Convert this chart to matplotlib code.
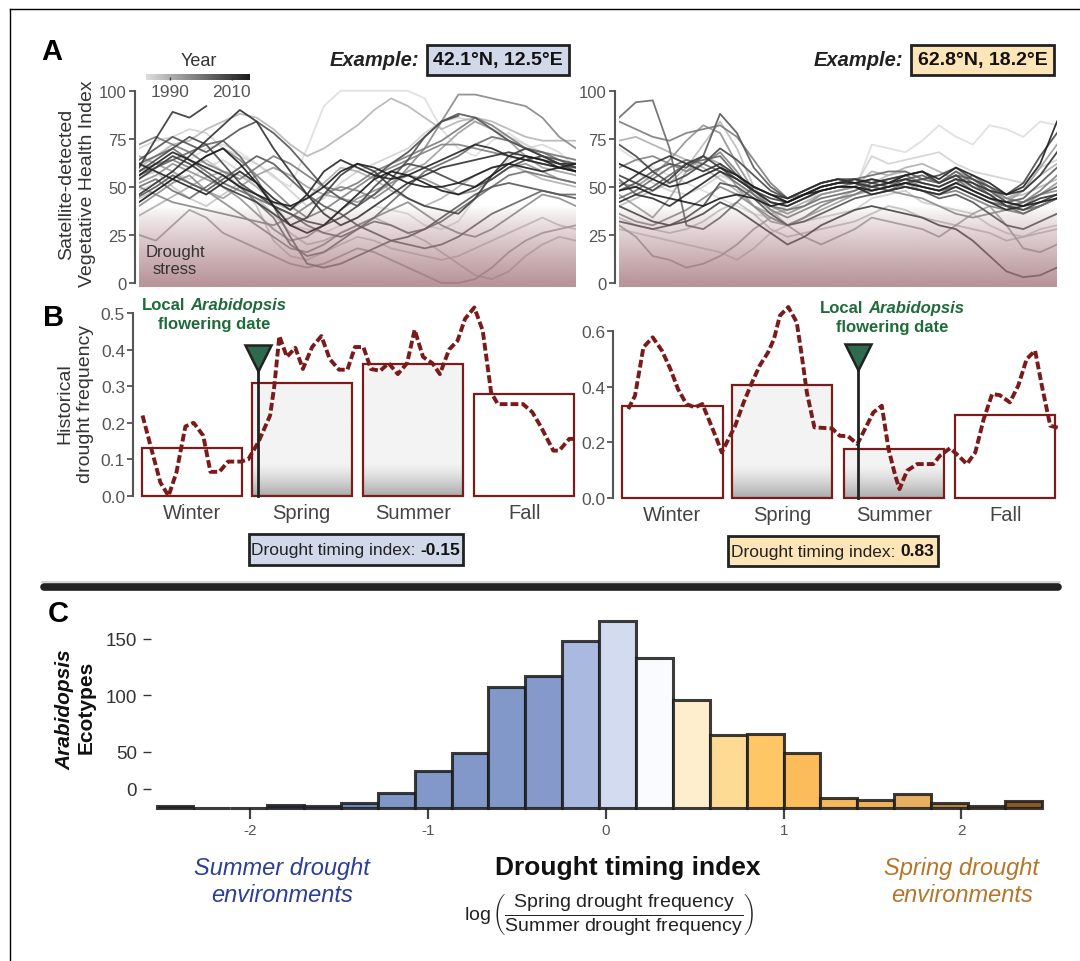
import numpy as np
import matplotlib.pyplot as plt
from matplotlib.colors import LinearSegmentedColormap, Normalize
from matplotlib.lines import Line2D
from matplotlib.patches import Rectangle
from matplotlib.offsetbox import TextArea, HPacker, VPacker, AnnotationBbox

plt.rcParams['font.family'] = ['Liberation Sans', 'DejaVu Sans']
plt.rcParams['mathtext.fontset'] = 'custom'
plt.rcParams['mathtext.rm'] = 'Liberation Sans'
plt.rcParams['mathtext.it'] = 'Liberation Sans:italic'
plt.rcParams['mathtext.bf'] = 'Liberation Sans:bold'

W, H = 1080, 962

# ---------------- panel A: vegetative health index, one line per year ----------------
WEEKS_A = np.arange(0, 53, 2)
N = None

LEFT_YEARS = [1982, 1983, 1984, 1986, 1987, 1989, 1990, 1992, 1993, 1995, 1996, 1998, 1999,
              2001, 2002, 2003, 2005, 2006, 2008, 2010, 2012, 2014, 2015, 2016, 1997, 2007, 2011]
LEFT_VHI = [
    [62, 60, 66, 64, 70, 72, 68, 62, 55, 50, 70, 92, 100, 100, 100, 100, 100, 96, 80, 70, 66, 74, 78, 72, 66, 62, 58],
    [48, 52, 58, 54, 60, 64, 58, 50, 42, 30, 28, 26, 30, 34, 40, 38, 36, 30, 28, 32, 44, 56, 64, 70, 72, 68, 60],
    [70, 74, 76, 80, 78, 70, 66, 62, 56, 48, 40, 44, 52, 58, 62, 66, 70, 78, 84, 86, 84, 80, 76, 72, 68, 66, 64],
    [55, 58, 50, 44, 40, 46, 52, 40, 22, 14, 12, 16, 20, 24, 22, 18, 16, 14, 12, 14, 18, 22, 26, 30, 34, 30, 28],
    [44, 48, 54, 60, 64, 58, 50, 44, 36, 26, 20, 22, 26, 30, 34, 30, 26, 22, 16, 10, 4, 2, 6, 14, 20, 24, 22],
    [60, 66, 72, 74, 80, 84, 88, 86, 80, 72, 66, 70, 76, 82, 90, 96, 92, 86, 80, 84, 86, 84, 80, 76, 74, 74, 74],
    [35, 40, 45, 50, 55, 58, 56, 50, 42, 38, 44, 52, 60, 58, 54, 48, 44, 40, 44, 50, 56, 60, 62, 58, 54, 52, 50],
    [25, 22, 30, 38, 34, 26, 22, 18, 14, 10, 8, 10, 14, 18, 16, 12, 8, 4, 0, 0, 2, 8, 16, 22, 26, 28, 30],
    [66, 62, 58, 52, 48, 44, 50, 56, 60, 56, 50, 46, 44, 42, 46, 52, 58, 62, 70, 78, 84, 80, 74, 66, 60, 58, 56],
    [52, 56, 62, 58, 54, 50, 44, 36, 28, 22, 24, 30, 38, 44, 48, 52, 56, 54, 50, 46, 48, 54, 60, 62, 58, 54, 52],
    [40, 46, 52, 56, 48, 42, 36, 30, 24, 18, 16, 20, 26, 30, 34, 38, 42, 36, 30, 26, 24, 28, 34, 40, 46, 44, 40],
    [58, 62, 64, 60, 66, 70, 64, 56, 48, 40, 34, 38, 44, 50, 56, 60, 64, 68, 72, 72, 70, 68, 66, 64, 62, 60, 60],
    [72, 76, 72, 68, 62, 58, 54, 60, 66, 62, 56, 50, 48, 52, 58, 62, 66, 70, 74, 80, 86, 82, 76, 70, 68, 66, 64],
    [50, 54, 48, 44, 50, 56, 50, 42, 34, 20, 14, 16, 22, 28, 32, 30, 26, 28, 32, 38, 44, 50, 56, 58, 56, 54, 52],
    [62, 66, 70, 64, 58, 52, 48, 44, 40, 36, 30, 26, 24, 28, 34, 42, 50, 58, 62, 66, 72, 76, 74, 70, 68, 64, 60],
    [56, 60, 64, 68, 72, 74, 66, 54, 40, 24, 10, 8, 10, 14, 18, 22, 20, 18, 20, 24, 30, 36, 40, 44, 48, 46, 46],
    [45, 50, 56, 52, 48, 54, 60, 66, 62, 54, 46, 40, 36, 30, 26, 22, 24, 28, 34, 40, 46, 50, 52, 50, 48, 46, 44],
    [64, 70, 76, 72, 68, 74, 80, 84, 78, 70, 60, 50, 44, 40, 46, 54, 64, 76, 84, 88, 86, 80, 74, 70, 66, 64, 62],
    [58, 64, 70, 76, 72, 62, 52, 46, 40, 36, 32, 30, 34, 40, 50, 58, 62, 60, 56, 52, 50, 54, 60, 64, 66, 62, 58],
    [54, 60, 66, 62, 56, 50, 46, 42, 36, 30, 34, 46, 56, 62, 58, 50, 44, 40, 38, 36, 44, 56, 66, 70, 66, 62, 60],
    [46, 52, 58, 66, 74, 82, 90, 84, 70, 58, 46, 36, 30, 34, 40, 46, 52, 56, 60, 62, 64, 66, 68, 66, 64, 62, 62],
    [62, 58, 54, 50, 46, 52, 58, 52, 44, 38, 46, 58, 64, 60, 56, 54, 56, 60, 64, 68, 72, 70, 66, 64, 62, 60, 58],
    [56, 62, 68, 64, 60, 56, 50, 46, 42, 40, 44, 50, 58, 62, 60, 56, 52, 50, 50, 52, 56, 60, 62, 60, 58, 60, 62],
    [42, 48, 54, 60, 66, 70, 62, 52, 40, 30, 26, 30, 38, 46, 54, 58, 56, 52, 48, 46, 50, 56, 62, 66, 64, 60, 58],
    [50, 46, 42, 40, 38, 36, 34, 32, 30, 34, 40, 46, 50, 48, 44, 50, 60, 70, 84, 98, 98, 96, 94, 92, 86, 76, 70],
    [N, N, N, N, N, N, N, N, N, N, N, N, N, N, 55, 62, 68, 76, 84, 87, N, N, N, N, N, N, N],
    [60, 75, 89, 86, 92, N, N, N, N, N, N, N, N, N, N, N, N, N, N, N, N, N, N, N, N, N, N],
]

RIGHT_YEARS = [1982, 1984, 1985, 1987, 1988, 1990, 1992, 1993, 1995, 1996, 1998, 1999,
               2001, 2002, 2003, 2005, 2006, 2008, 2009, 2010, 2012, 2013, 2015, 2016]
RIGHT_VHI = [
    [70, 64, 60, 56, 52, 48, 44, 40, 36, 34, 38, 42, 44, 46, 48, 72, 70, 68, 74, 82, 76, 72, 82, 80, 76, 84, 82],
    [62, 58, 52, 48, 46, 50, 56, 52, 44, 38, 40, 44, 46, 48, 50, 66, 62, 64, 66, 68, 62, 58, 56, 54, 52, 60, 64],
    [28, 26, 24, 22, 20, 18, 16, 12, 18, 26, 30, 32, 34, 36, 38, 44, 46, 48, 42, 40, 38, 36, 30, 26, 24, 28, 30],
    [34, 30, 28, 26, 28, 32, 38, 42, 36, 28, 24, 26, 28, 30, 32, 36, 40, 38, 34, 32, 30, 28, 26, 22, 24, 26, 28],
    [40, 44, 48, 52, 60, 72, 84, 70, 50, 38, 30, 34, 40, 44, 48, 52, 56, 58, 54, 52, 56, 50, 48, 44, 46, 50, 54],
    [74, 76, 72, 68, 64, 60, 54, 48, 40, 36, 38, 42, 46, 48, 50, 58, 56, 60, 62, 58, 54, 50, 46, 44, 48, 56, 62],
    [30, 24, 14, 12, 8, 10, 14, 20, 28, 34, 30, 24, 20, 24, 28, 34, 32, 30, 28, 24, 30, 36, 40, 30, 18, 16, 20],
    [46, 40, 34, 44, 58, 66, 62, 50, 40, 32, 30, 34, 38, 42, 46, 48, 50, 52, 48, 46, 52, 48, 44, 42, 48, 60, 72],
    [52, 50, 56, 64, 74, 82, 78, 62, 48, 40, 36, 40, 46, 48, 50, 54, 52, 56, 58, 52, 58, 54, 50, 42, 40, 46, 52],
    [36, 32, 30, 34, 38, 44, 50, 46, 40, 34, 30, 34, 40, 44, 46, 50, 48, 46, 44, 40, 36, 34, 36, 38, 42, 46, 48],
    [60, 64, 66, 62, 58, 62, 68, 58, 46, 38, 34, 38, 42, 44, 46, 50, 52, 54, 50, 48, 52, 56, 50, 44, 42, 48, 56],
    [84, 80, 76, 74, 78, 80, 82, 76, 64, 52, 44, 46, 50, 52, 54, 50, 52, 50, 48, 46, 48, 44, 40, 38, 36, 40, 44],
    [44, 48, 54, 60, 64, 62, 58, 52, 46, 40, 38, 40, 44, 46, 48, 52, 54, 56, 52, 50, 54, 48, 44, 40, 38, 40, 44],
    [86, 94, 95, 70, 30, 28, 34, 42, 50, 46, 42, 46, 50, 52, 54, 56, 58, 58, 54, 52, 58, 52, 46, 40, 36, 40, 44],
    [54, 46, 50, 56, 62, 64, 66, 56, 48, 42, 40, 44, 48, 50, 52, 50, 48, 52, 50, 48, 50, 46, 42, 40, 42, 46, 50],
    [48, 52, 58, 62, 60, 66, 88, 78, 60, 50, 44, 48, 52, 54, 52, 48, 50, 54, 56, 52, 56, 54, 48, 42, 44, 52, 60],
    [32, 30, 28, 30, 34, 40, 52, 50, 44, 36, 30, 32, 36, 40, 44, 46, 48, 50, 48, 44, 46, 42, 36, 30, 28, 32, 36],
    [72, 66, 58, 52, 56, 62, 70, 64, 56, 48, 44, 48, 52, 54, 54, 52, 50, 52, 54, 56, 60, 54, 50, 46, 52, 66, 78],
    [40, 36, 32, 30, 32, 36, 42, 38, 32, 26, 20, 24, 30, 34, 38, 40, 38, 36, 34, 30, 28, 22, 14, 6, 3, 4, 8],
    [56, 52, 48, 54, 62, 66, 60, 54, 48, 44, 42, 46, 50, 52, 54, 52, 54, 56, 58, 52, 56, 50, 46, 40, 38, 42, 46],
    [50, 56, 62, 66, 62, 58, 62, 56, 50, 46, 44, 48, 52, 54, 52, 50, 52, 54, 52, 50, 54, 52, 48, 46, 48, 56, 68],
    [42, 46, 44, 40, 46, 52, 58, 54, 48, 42, 40, 44, 48, 50, 50, 46, 48, 50, 48, 46, 50, 46, 42, 38, 40, 44, 46],
    [62, 58, 54, 50, 52, 56, 60, 56, 50, 46, 42, 46, 50, 52, 52, 54, 52, 56, 58, 54, 60, 56, 52, 46, 50, 62, 84],
    [48, 50, 46, 44, 42, 40, 44, 46, 44, 40, 42, 46, 48, 50, 50, 48, 50, 52, 50, 48, 52, 48, 44, 42, 40, 42, 44],
]

# ---------------- panel B: seasonal drought frequency ----------------
SEASONS = ['Winter', 'Spring', 'Summer', 'Fall']
SEASON_WEEK = [6.35, 19.35, 32.65, 45.85]
LEFT_FREQ = [0.13, 0.31, 0.36, 0.28]
RIGHT_FREQ = [0.33, 0.405, 0.175, 0.30]

LEFT_WK = [0.42, 1.48, 2.54, 3.52, 4.46, 5.52, 6.5, 7.64, 8.5, 9.56, 10.6, 12.1, 13.0, 14.2, 15.6, 16.1,
           16.7, 17.6, 18.6, 19.5, 20.6, 21.7, 22.7, 23.8, 24.8, 25.7, 26.7, 27.6, 28.7, 29.7, 30.8,
           31.9, 32.8, 33.8, 34.9, 35.8, 36.9, 37.9, 38.8, 39.9, 40.9, 41.9, 42.7, 43.8, 45.7, 46.8,
           47.8, 49.3, 50.0, 51.2, 52.0]
LEFT_WEEKLY = [0.22, 0.128, 0.037, 0.0, 0.065, 0.19, 0.2, 0.165, 0.066, 0.066, 0.094, 0.094, 0.1, 0.147,
               0.22, 0.30, 0.437, 0.38, 0.405, 0.347, 0.407, 0.437, 0.374, 0.345, 0.345, 0.407, 0.407,
               0.347, 0.342, 0.363, 0.333, 0.363, 0.454, 0.38, 0.363, 0.333, 0.4, 0.424, 0.484, 0.515,
               0.452, 0.283, 0.251, 0.251, 0.251, 0.229, 0.19, 0.124, 0.124, 0.156, 0.156]

RIGHT_WK = [1.1, 1.9, 2.9, 4.0, 5.1, 6.1, 7.0, 8.0, 9.0, 9.9, 10.8, 11.6, 12.2, 12.8, 13.8, 14.8, 15.8,
            16.7, 17.7, 18.4, 19.1, 20.1, 21.1, 21.7, 22.3, 23.2, 24.3, 25.3, 26.2, 27.2, 28.3, 29.0,
            30.2, 31.2, 32.0, 32.8, 33.3, 34.2, 35.4, 36.3, 37.3, 38.1, 39.3, 40.3, 41.3, 42.3, 43.3,
            44.3, 45.2, 46.4, 47.4, 48.4, 49.4, 50.2, 51.2, 52.2]
RIGHT_WEEKLY = [0.32, 0.368, 0.542, 0.578, 0.53, 0.464, 0.392, 0.338, 0.326, 0.338, 0.272, 0.212, 0.164,
                0.2, 0.26, 0.344, 0.416, 0.476, 0.524, 0.572, 0.656, 0.687, 0.632, 0.512, 0.38, 0.254,
                0.252, 0.25, 0.224, 0.222, 0.194, 0.236, 0.308, 0.332, 0.176, 0.08, 0.032, 0.098, 0.122,
                0.122, 0.122, 0.152, 0.179, 0.152, 0.122, 0.164, 0.284, 0.374, 0.37, 0.344, 0.404, 0.5,
                0.53, 0.404, 0.26, 0.252]

LEFT_FLOWER_WK = 14.2
RIGHT_FLOWER_WK = 28.4

# ---------------- panel C: histogram of drought timing index ----------------
BIN_EDGES = np.linspace(-2.527, 2.451, 25)
ECOTYPE_COUNTS = [2, 0, 0, 3, 2, 4, 13, 33, 49, 107, 117, 148, 166, 133, 96, 65, 66, 49, 9, 7, 12, 4, 2, 6]
BIN_COLORS = ['#1f2a4a', '#2a3a66', '#33457a', '#3d528c', '#4a62a0', '#6f88c2', '#8097c8', '#8198c9',
              '#8198c9', '#8198c9', '#8599ca', '#aab9df', '#d2dbef', '#fafbfe', '#feeecd', '#fedb95',
              '#fec665', '#fdbc5c', '#f6b65a', '#f1b15c', '#e8ae62', '#b98540', '#9a6a30', '#8a5a22']

YEAR_CMAP = LinearSegmentedColormap.from_list('year', ['#dedede', '#1a1a1a'])
YEAR_NORM = Normalize(1982, 2016)

fig = plt.figure(figsize=(W / 100, H / 100), dpi=100)


def px_axes(x0, y0, x1, y1):
    return fig.add_axes([x0 / W, 1 - y1 / H, (x1 - x0) / W, (y1 - y0) / H])


def fxy(x, y):
    return (x / W, 1 - y / H)


def draw_vhi(ax, lines, years):
    for i in np.argsort(years, kind='stable'):
        ax.plot(WEEKS_A, np.array(lines[i], dtype=float), color=YEAR_CMAP(YEAR_NORM(years[i])),
                lw=1.3, alpha=0.9, zorder=2)
    # drought stress shading sits over the lines
    yy = np.linspace(-2, 40, 200)
    rgba = np.zeros((200, 1, 4))
    rgba[..., 0], rgba[..., 1], rgba[..., 2] = 160 / 255, 112 / 255, 119 / 255
    rgba[:, 0, 3] = 0.74 * np.clip((40 - yy) / 40, 0, 1) ** 0.8
    ax.imshow(rgba, extent=(0, 52, -2, 40), origin='lower', aspect='auto', zorder=3)
    ax.set_xlim(0, 52)
    ax.set_ylim(-2, 101)
    for s in ['top', 'right', 'bottom']:
        ax.spines[s].set_visible(False)
    ax.spines['left'].set_bounds(0, 100)
    ax.spines['left'].set_position(('outward', 3))
    ax.spines['left'].set_color('#555')
    ax.spines['left'].set_linewidth(1.5)
    ax.set_xticks([])
    ax.set_yticks([0, 25, 50, 75, 100])
    ax.tick_params(axis='y', length=4, width=1.3, color='#555', labelcolor='#555', labelsize=12, pad=2)


def draw_freq(ax, freq, wk, val, flower_wk, tri_y, ytop, tick_top, grad_h):
    bw = 11.9
    for c, f, s in zip(SEASON_WEEK, freq, SEASONS):
        x0 = c - bw / 2
        if s in ('Spring', 'Summer'):
            yy = np.linspace(0, f, 120)
            g = 0.953 - 0.28 * np.clip((grad_h - yy) / grad_h, 0, 1) ** 1.3
            ax.imshow(np.repeat(g[:, None], 2, axis=1), extent=(x0, x0 + bw, 0, f), origin='lower',
                      aspect='auto', cmap='gray', vmin=0, vmax=1, zorder=1)
            fc = 'none'
        else:
            fc = 'white'
        ax.add_patch(Rectangle((x0, 0), bw, f, fc=fc, ec='#7a1c1c', lw=1.6, zorder=2, clip_on=False))
    ax.plot(wk, val, color='#7b1a1a', lw=2.8, ls=(0, (2, 0.8)), zorder=4, clip_on=False)
    ax.plot([flower_wk, flower_wk], [0, tri_y], color='#222', lw=2, zorder=5, clip_on=False)
    ax.plot(flower_wk, tri_y, marker='v', ms=19, mfc='#2e6a4e', mec='#222', mew=1.8, zorder=6,
            clip_on=False)
    ax.set_xlim(0, 52)
    ax.set_ylim(0, ytop)
    for s in ['top', 'right', 'bottom']:
        ax.spines[s].set_visible(False)
    ax.spines['left'].set_bounds(0, tick_top)
    ax.spines['left'].set_position(('outward', 4))
    ax.spines['left'].set_color('#555')
    ax.spines['left'].set_linewidth(1.5)
    ax.set_xticks(SEASON_WEEK, SEASONS)
    ax.tick_params(axis='x', length=0, pad=5, labelsize=14.5, labelcolor='#444')
    ax.tick_params(axis='y', length=4, width=1.3, color='#555', labelcolor='#555', labelsize=12.5, pad=2)


def flower_label(x, y):
    g = '#1f6b3a'
    row1 = HPacker(children=[TextArea('Local', textprops=dict(color=g, fontsize=12, fontweight='bold')),
                             TextArea('Arabidopsis', textprops=dict(color=g, fontsize=12, fontweight='bold',
                                                                    fontstyle='italic'))],
                   pad=0, sep=4, align='baseline')
    row2 = TextArea('flowering date', textprops=dict(color=g, fontsize=12, fontweight='bold'))
    box = VPacker(children=[row1, row2], pad=0, sep=3, align='center')
    fig.add_artist(AnnotationBbox(box, fxy(x, y), xycoords='figure fraction', frameon=False,
                                  box_alignment=(0.5, 0.5)))


def index_box(x0, y0, x1, y1, value, fc):
    fig.add_artist(Rectangle(fxy(x0, y1), (x1 - x0) / W, (y1 - y0) / H, transform=fig.transFigure,
                             fc=fc, ec='#222', lw=2))
    box = HPacker(children=[TextArea('Drought timing index: ', textprops=dict(color='#222', fontsize=12.5)),
                            TextArea(value, textprops=dict(color='#111', fontsize=12.5, fontweight='bold'))],
                  pad=0, sep=0, align='baseline')
    fig.add_artist(AnnotationBbox(box, fxy((x0 + x1) / 2, (y0 + y1) / 2), xycoords='figure fraction',
                                  frameon=False, box_alignment=(0.5, 0.5)))


# panel A
axA1 = px_axes(139, 89.8, 576, 287.8)
axA2 = px_axes(619, 89.8, 1057, 287.8)
draw_vhi(axA1, LEFT_VHI, LEFT_YEARS)
draw_vhi(axA2, RIGHT_VHI, RIGHT_YEARS)
axA1.text(4.3, 12, 'Drought\nstress', ha='center', va='center', fontsize=12, color='#333',
          linespacing=1.15, zorder=5)

cax = px_axes(146, 75, 250, 81)
cax.imshow(np.linspace(0, 1, 256)[None, :], extent=(1982, 2016, 0, 1), cmap=YEAR_CMAP, aspect='auto')
cax.set_xlim(1982, 2016)
cax.set_yticks([])
cax.set_xticks([1990, 2010])
cax.tick_params(axis='x', length=2, width=1, color='#333', direction='in', labelsize=12.5,
                labelcolor='#555', pad=3)
for s in cax.spines.values():
    s.set_visible(False)
fig.text(*fxy(199, 62), 'Year', ha='center', va='center', fontsize=13, color='#333')

fig.text(*fxy(77, 184), 'Satellite-detected\nVegetative Health Index', rotation=90, ha='center',
         va='center', fontsize=14, color='#333', linespacing=1.25)

for right_x, bx, label, fc in [(419, 498, '42.1°N, 12.5°E', '#d0d8ea'),
                               (903, 982.5, '62.8°N, 18.2°E', '#fde5b8')]:
    fig.text(*fxy(right_x, 61), 'Example:', ha='right', va='center', fontsize=14.5,
             fontweight='bold', fontstyle='italic', color='#222')
    fig.text(*fxy(bx, 61), label, ha='center', va='center', fontsize=14, fontweight='bold', color='#111',
             bbox=dict(boxstyle='square,pad=0.32', fc=fc, ec='#222', lw=2))

# panel B
axB1 = px_axes(139, 303, 576, 497)
axB2 = px_axes(619, 304.4, 1057, 499)
draw_freq(axB1, LEFT_FREQ, LEFT_WK, LEFT_WEEKLY, LEFT_FLOWER_WK, 0.377, 0.53, 0.5, 0.09)
draw_freq(axB2, RIGHT_FREQ, RIGHT_WK, RIGHT_WEEKLY, RIGHT_FLOWER_WK, 0.507, 0.70, 0.6, 0.12)
axB1.set_yticks([0.0, 0.1, 0.2, 0.3, 0.4, 0.5], ['0.0', '0.1', '0.2', '0.3', '0.4', '0.5'])
axB2.set_yticks([0.0, 0.2, 0.4, 0.6], ['0.0', '0.2', '0.4', '0.6'])
fig.text(*fxy(75, 404), 'Historical\ndrought frequency', rotation=90, ha='center', va='center',
         fontsize=14, color='#333', linespacing=1.25)
flower_label(214, 315)
flower_label(892, 318)
index_box(249, 535, 463, 566, '-0.15', '#d0d8ea')
index_box(728, 537, 938, 567, '0.83', '#fde5b8')

# panel C
axC = px_axes(150.7, 615, 1050.4, 809)
centers = (BIN_EDGES[:-1] + BIN_EDGES[1:]) / 2
axC.bar(centers, ECOTYPE_COUNTS, width=BIN_EDGES[1] - BIN_EDGES[0], color=BIN_COLORS,
        edgecolor=(0.1, 0.1, 0.1, 0.85), lw=2.2, zorder=2, clip_on=False)
axC.set_xlim(-2.56, 2.5)
axC.set_ylim(0, 172)
for s in axC.spines.values():
    s.set_visible(False)
axC.set_xticks([-2, -1, 0, 1, 2], ['-2', '-1', '0', '1', '2'])
axC.tick_params(axis='x', length=8, width=1.6, color='#444', labelcolor='#555', labelsize=11, pad=3)
# the "0" label sits a little above the baseline in the original figure
axC.set_yticks([17, 50, 100, 150], ['0', '50', '100', '150'])
axC.tick_params(axis='y', length=6, width=1, color='#333', labelcolor='#333', labelsize=13.5, pad=4)
fig.text(*fxy(65, 710), 'Arabidopsis', rotation=90, ha='center', va='center', fontsize=15,
         fontweight='bold', fontstyle='italic', color='#111')
fig.text(*fxy(86, 707), 'Ecotypes', rotation=90, ha='center', va='center', fontsize=15,
         fontweight='bold', color='#111')

fig.text(*fxy(628, 868), 'Drought timing index', ha='center', va='center', fontsize=19,
         fontweight='bold', color='#111')
fig.text(*fxy(609, 915),
         r'$\log\left(\dfrac{\mathrm{Spring\ drought\ frequency}}{\mathrm{Summer\ drought\ frequency}}\right)$',
         ha='center', va='center', fontsize=14, color='#222')
fig.text(*fxy(282, 882), 'Summer drought\nenvironments', ha='center', va='center', fontsize=17,
         fontstyle='italic', color='#2b3f98', linespacing=1.2)
fig.text(*fxy(962, 882), 'Spring drought\nenvironments', ha='center', va='center', fontsize=17,
         fontstyle='italic', color='#b5762a', linespacing=1.2)

# panel letters
fig.text(*fxy(52, 52), 'A', ha='center', va='center', fontsize=21, fontweight='bold')
fig.text(*fxy(54, 318), 'B', ha='center', va='center', fontsize=21, fontweight='bold')
fig.text(*fxy(58, 614), 'C', ha='center', va='center', fontsize=21, fontweight='bold')

# separator between B and C, frame lines
fig.add_artist(Line2D([42 / W, 1060 / W], [1 - 583 / H] * 2, lw=1.2, color='#cccccc'))
fig.add_artist(Line2D([44 / W, 1058 / W], [1 - 588 / H] * 2, lw=5.5, color='#222',
                      solid_capstyle='round'))
fig.add_artist(Line2D([9.5 / W, 1.0], [1 - 9.5 / H] * 2, lw=1, color='black'))
fig.add_artist(Line2D([9.5 / W] * 2, [0.0, 1 - 9.5 / H], lw=1, color='black'))

fig.savefig('out.png', dpi=100)
